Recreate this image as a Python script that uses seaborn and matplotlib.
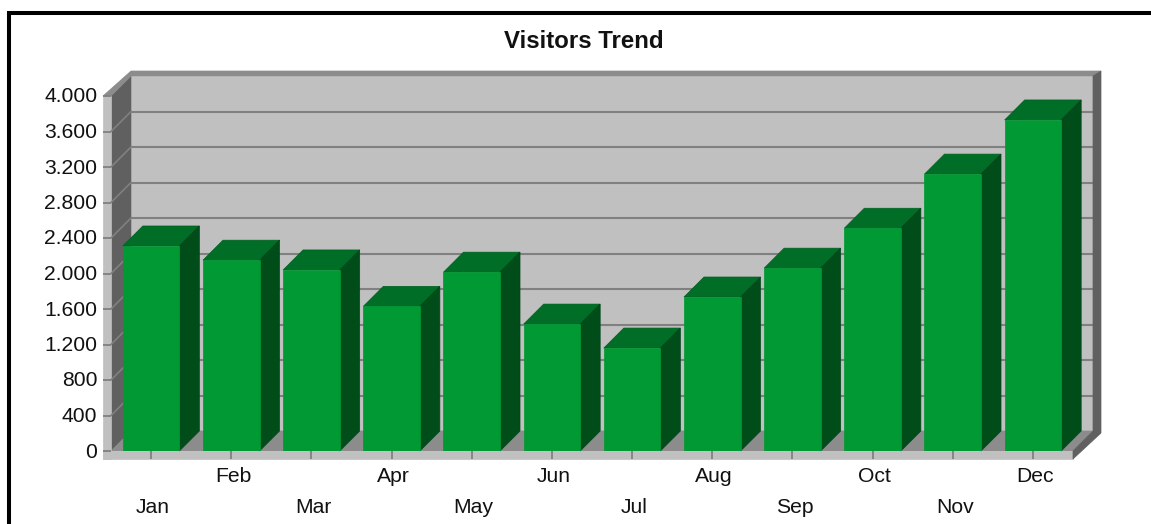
import pandas as pd
import matplotlib
matplotlib.use("Agg")
import matplotlib.pyplot as plt
from matplotlib.patches import Rectangle
from matplotlib.transforms import ScaledTranslation
import seaborn as sns

# Datos
months = ["Jan", "Feb", "Mar", "Apr", "May", "Jun", "Jul", "Aug", "Sep", "Oct", "Nov", "Dec"]
visitors = [2310, 2150, 2040, 1630, 2015, 1430, 1160, 1735, 2060, 2510, 3120, 3730]
y_ticks = [0, 400, 800, 1200, 1600, 2000, 2400, 2800, 3200, 3600, 4000]
y_labels = ["0", "400", "800", "1.200", "1.600", "2.000", "2.400", "2.800", "3.200", "3.600", "4.000"]

sns.set_style("white")
plt.rcParams["font.family"] = ["Liberation Sans", "DejaVu Sans"]

W, H = 1151, 524
bar_width = 0.705
fig = plt.figure(figsize=(W / 100, H / 100), dpi=100)
ax = fig.add_axes([111 / W, 1 - 451 / H, 962 / W, 355 / H])

df = pd.DataFrame({"month": months, "visitors": visitors})
sns.barplot(data=df, x="month", y="visitors", color="#009933", saturation=1, width=bar_width,
            edgecolor="#009933", linewidth=0.5, zorder=6, ax=ax)
ax.set_xlim(-0.5, 11.5)
ax.set_ylim(0, 4000)
ax.patch.set_visible(False)
ax.set_axisbelow(False)
sns.despine(ax=ax, left=True, bottom=True)

# Escala del efecto 3D en unidades de datos
px_x = 12 / 962
px_y = 4000 / 355
dx = 20 * px_x
dy = 20 * px_y
lip_x = 8 * px_x
lip_y = 8 * px_y
band_y = 5 * px_y
x0, x1 = -0.5, 11.5
y0, y1 = 0, 4000


def face(xs, ys, color, z, edge=None):
    ax.fill(xs, ys, facecolor=color, edgecolor=edge or color, linewidth=0.5, zorder=z, clip_on=False)


# Paredes
face([x0 + dx, x1 + dx, x1 + dx, x0 + dx], [y0 + dy, y0 + dy, y1 + dy, y1 + dy], "#c0c0c0", 1)
face([x0, x0 + dx, x0 + dx, x0], [y0, y0 + dy, y1 + dy, y1], "#606060", 2)
face([x0, x0 + dx, x1 + dx, x1], [y0, y0 + dy, y0 + dy, y0], "#8c8c8c", 2)
face([x0 - lip_x, x0, x0, x0 - lip_x], [y0 - lip_y, y0 - lip_y, y1, y1], "#c0c0c0", 2)
face([x0 - lip_x, x1, x1, x0 - lip_x], [y0 - lip_y, y0 - lip_y, y0, y0], "#c0c0c0", 2)
# Banda superior
face([x0 - lip_x, x0, x0 + dx, x1 + dx, x1 + dx + lip_x, x0 + dx],
     [y1, y1, y1 + dy, y1 + dy, y1 + dy + band_y, y1 + dy + band_y], "#8c8c8c", 2)
# Pared derecha
face([x1 + dx, x1 + dx + lip_x, x1 + dx + lip_x, x1, x1, x1 + dx],
     [y1 + dy, y1 + dy + band_y, y0 + dy - 2 * px_y, y0 - lip_y, y0, y0 + dy], "#606060", 3)

# Rejilla de la pared del fondo y de la pared izquierda
for v in y_ticks[1:-1]:
    ax.plot([x0 + dx, x1 + dx], [v + dy, v + dy], color="#808080", lw=1.5, zorder=2.5, clip_on=False,
            solid_capstyle="butt")
    ax.plot([x0, x0 + dx], [v, v + dy], color="#808080", lw=1.2, zorder=2.5, clip_on=False)

# Caras superior y lateral de cada barra
half = bar_width / 2
for i, v in enumerate(visitors):
    left, right = i - half, i + half
    face([left, right, right + dx, left + dx], [v, v, v + dy, v + dy], "#006e26", 4, "#005f20")
    face([right, right + dx, right + dx, right], [0, dy, v + dy, v], "#004d1a", 4, "#00451a")

ax.set_xlabel("")
ax.set_ylabel("")
ax.set_yticks(y_ticks)
ax.set_yticklabels(y_labels)
ax.tick_params(axis="both", which="major", left=True, bottom=True, length=5.8, width=1.3, color="#808080",
               labelsize=15.2, labelcolor="#111111")
ax.tick_params(axis="y", pad=4)

# Etiquetas alternadas en dos filas, con un pequeno ajuste en pixeles
nudge_x = ScaledTranslation(2 / 100, 0, fig.dpi_scale_trans)
nudge_y = ScaledTranslation(0, 1 / 100, fig.dpi_scale_trans)
for i, tick in enumerate(ax.xaxis.get_major_ticks()):
    tick.set_pad(28 if i % 2 == 0 else 5.5)
    tick.label1.set_transform(tick.label1.get_transform() + nudge_x)
for tick in ax.yaxis.get_major_ticks():
    tick.label1.set_transform(tick.label1.get_transform() + nudge_y)

fig.text(584 / W, 1 - 41 / H, "Visitors Trend", ha="center", va="center", fontsize=17.3, fontweight="bold",
         color="#111111")

# Marco negro, cortado por la derecha y por abajo
fig.add_artist(Rectangle((9 / W, -0.1), 1.2, 1.1 - 13 / H, transform=fig.transFigure, fill=False,
                         edgecolor="black", linewidth=2.9))

fig.savefig("out.png", dpi=100)
